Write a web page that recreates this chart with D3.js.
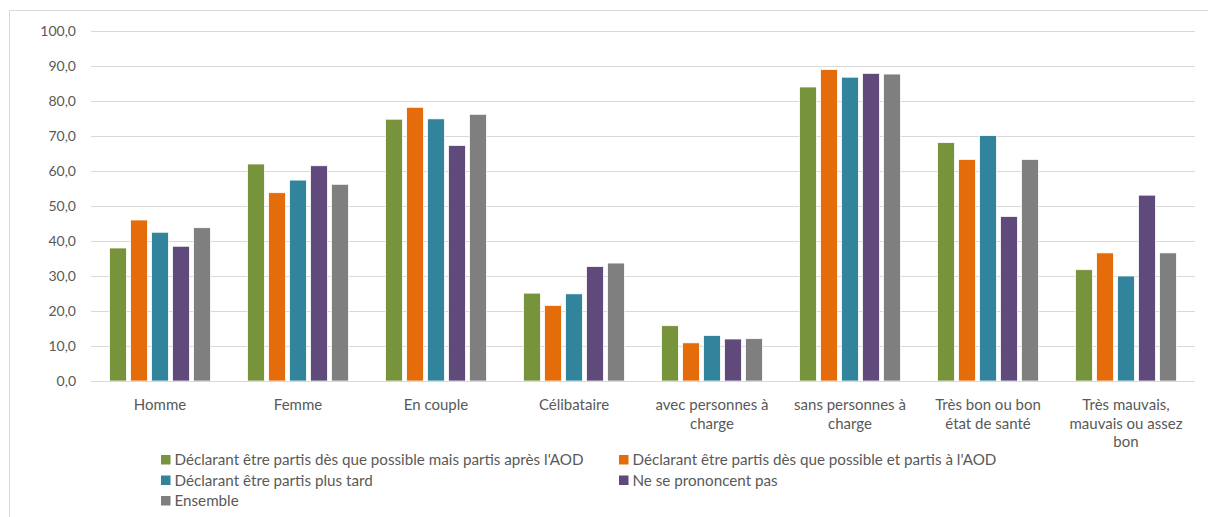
<!DOCTYPE html>
<html><head><meta charset="utf-8">
<script src="https://cdn.jsdelivr.net/npm/d3@7"></script>
<style>
html,body{margin:0;padding:0;background:#fff;overflow:hidden;}
svg{display:block;}
text{font-family:Lato, "Open Sans", sans-serif;fill:#595959;}
</style></head>
<body>
<svg id="c" width="1208" height="517"></svg>
<script>
const categories = ["Homme","Femme","En couple","Célibataire","avec personnes à\ncharge","sans personnes à\ncharge","Très bon ou bon\nétat de santé","Très mauvais,\nmauvais ou assez\nbon"];
const seriesNames = ["Déclarant être partis dès que possible mais partis après l'AOD","Déclarant être partis dès que possible et partis à l'AOD","Déclarant être partis plus tard","Ne se prononcent pas","Ensemble"];
const seriesColors = ["#77933c","#e46c0a","#31849b","#604a7b","#7f7f7f"];
const s1 = [38.0, 62.0, 74.8, 25.1, 15.8, 84.0, 68.1, 31.8];
const s2 = [46.0, 53.8, 78.2, 21.6, 10.9, 89.0, 63.3, 36.6];
const s3 = [42.5, 57.4, 74.9, 24.9, 13.0, 86.8, 70.1, 30.0];
const s4 = [38.5, 61.5, 67.3, 32.7, 12.0, 87.9, 47.0, 53.1];
const s5 = [43.8, 56.2, 76.2, 33.7, 12.1, 87.7, 63.3, 36.6];
const yTicks = [0,10,20,30,40,50,60,70,80,90,100];
const seriesValues = [s1,s2,s3,s4,s5];

const svg = d3.select("#c");
svg.append("line").attr("x1",9.5).attr("x2",9.5).attr("y1",10).attr("y2",517).attr("stroke","#d9d9d9");
svg.append("line").attr("x1",9).attr("x2",1208).attr("y1",10.5).attr("y2",10.5).attr("stroke","#d9d9d9");

const pLeft=91, pRight=1195, pTop=31, pBottom=381;
const y = d3.scaleLinear().domain([0,100]).range([pBottom,pTop]);
const x0 = d3.scaleBand().domain(categories).range([pLeft,pRight]).paddingInner(0.27).paddingOuter(0.135);
const x1 = d3.scaleBand().domain(d3.range(seriesNames.length)).range([0,x0.bandwidth()]).paddingInner(0.2).paddingOuter(0);

const fmt = v => d3.format(".1f")(v).replace(".",",");
svg.append("g").selectAll("line").data(yTicks.filter(t=>t>0)).join("line")
  .attr("x1",pLeft).attr("x2",pRight).attr("y1",d=>Math.round(y(d))+0.5).attr("y2",d=>Math.round(y(d))+0.5)
  .attr("stroke","#d9d9d9").attr("stroke-width",1);
svg.append("g").selectAll("text").data(yTicks).join("text")
  .attr("x",76).attr("y",d=>y(d)).attr("dy","0.35em").attr("text-anchor","end")
  .style("font-size","14px").text(fmt);

const data = [];
categories.forEach((c,i)=>seriesValues.forEach((s,j)=>data.push({c,j,v:s[i]})));
svg.append("g").selectAll("rect").data(data).join("rect")
  .attr("x",d=>x0(d.c)+x1(d.j)).attr("width",x1.bandwidth())
  .attr("y",d=>y(d.v)).attr("height",d=>y(0)-y(d.v))
  .attr("fill",d=>seriesColors[d.j]).attr("stroke","#fff").attr("stroke-width",0.75);

svg.append("line").attr("x1",pLeft).attr("x2",pRight).attr("y1",Math.round(y(0))+0.5).attr("y2",Math.round(y(0))+0.5)
  .attr("stroke","#d9d9d9").attr("stroke-width",1);

const cg = svg.append("g");
categories.forEach(c=>{
  const cx = x0(c)+x0.bandwidth()/2;
  const t = cg.append("text").attr("text-anchor","middle").style("font-size","15px").attr("x",cx).attr("y",410);
  c.split("\n").forEach((ln,k)=>t.append("tspan").attr("x",cx).attr("y",410+k*18.5).text(ln));
});

const lg = svg.append("g");
const lpos = [[161,460],[619,460],[161,480.5],[619,480.5],[161,501]];
seriesNames.forEach((n,i)=>{
  const [lx,ly]=lpos[i];
  lg.append("rect").attr("x",lx).attr("y",ly-5).attr("width",9.5).attr("height",9.5).attr("fill",seriesColors[i]);
  lg.append("text").attr("x",lx+13.5).attr("y",ly).attr("dy","0.35em").style("font-size","15.2px").text(n);
});
</script>
</body></html>
